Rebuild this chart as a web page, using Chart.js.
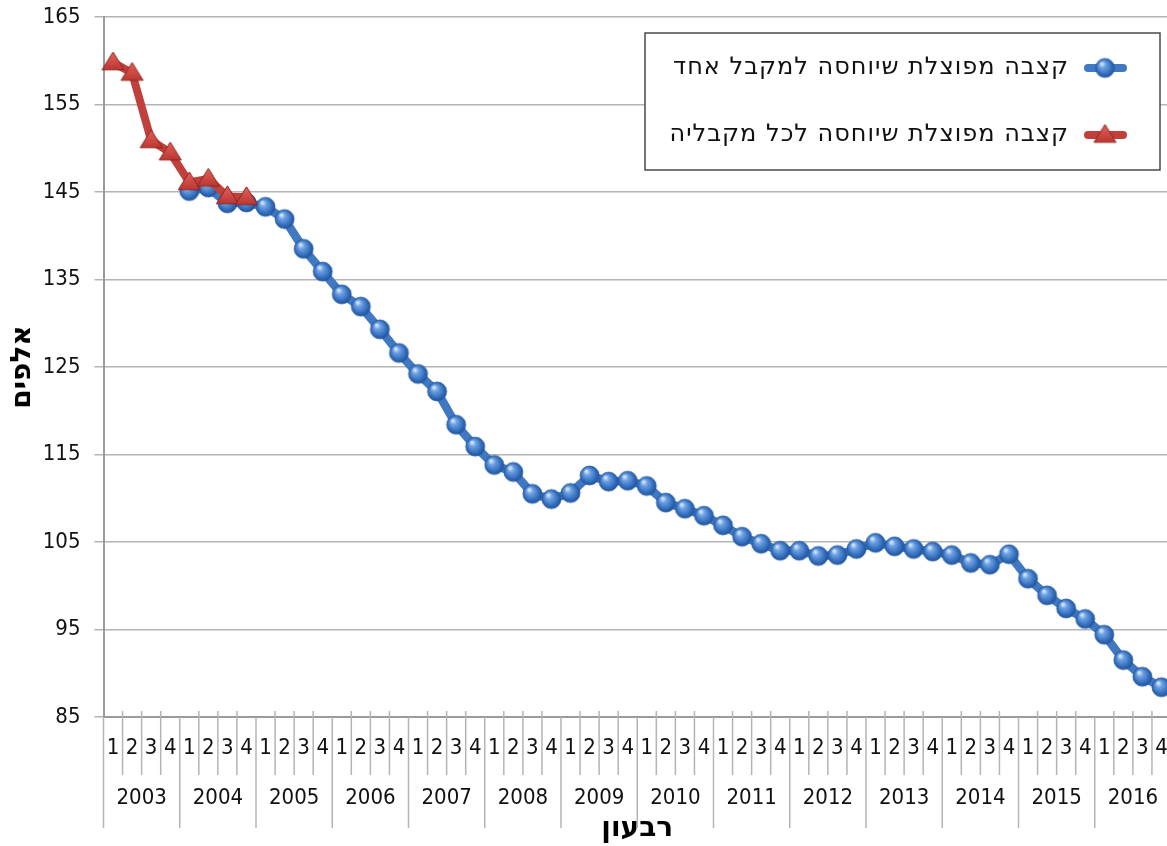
<!DOCTYPE html>
<html>
<head>
<meta charset="utf-8">
<script src="https://cdn.jsdelivr.net/npm/chart.js@4.4.1/dist/chart.umd.min.js"></script>
<style>
  html, body { margin: 0; padding: 0; background: #fff; overflow: hidden; }
  #c { display: block; }
</style>
</head>
<body>
<canvas id="c" width="1171" height="846" style="width:1171px;height:846px"></canvas>
<script>
// ---- Data ----
const years = ['2003','2004','2005','2006','2007','2008','2009','2010','2011','2012','2013','2014','2015','2016'];
const quarters = ['1','2','3','4'];
const seriesOneName = 'קצבה מפוצלת שיוחסה למקבל אחד';
const seriesAllName = 'קצבה מפוצלת שיוחסה לכל מקבליה';
// Blue: split pension attributed to one recipient (2003Q1..2016Q4)
const perOneRecipient = [
  null, null, null, null,
  145.1, 145.5, 143.7, 143.8,
  143.3, 141.9, 138.5, 135.9,
  133.3, 131.9, 129.3, 126.6,
  124.2, 122.2, 118.4, 115.9,
  113.8, 113.0, 110.5, 109.9,
  110.6, 112.6, 111.9, 112.0,
  111.4, 109.5, 108.8, 108.0,
  106.9, 105.6, 104.8, 104.0,
  104.0, 103.4, 103.5, 104.2,
  104.9, 104.5, 104.2, 103.9,
  103.5, 102.6, 102.4, 103.6,
  100.8, 98.9, 97.4, 96.2,
  94.4, 91.5, 89.6, 88.4
];
// Red: split pension attributed to all its recipients
const perAllRecipients = [
  159.8, 158.6, 150.9, 149.5,
  146.1, 146.5, 144.5, 144.4
].concat(new Array(48).fill(null));
const yTicks = { min: 85, max: 165, step: 10 };
const xTitle = 'רבעון';
const yTitle = 'אלפים';

const categories = [];
years.forEach(y => quarters.forEach(q => categories.push(y + ' Q' + q)));

// ---- Marker images ----
function sphere(r) {
  const c = document.createElement('canvas');
  const s = Math.ceil(r * 2 + 4);
  c.width = s; c.height = s;
  const g = c.getContext('2d');
  const cx = s / 2, cy = s / 2;
  const grad = g.createRadialGradient(cx - r * 0.35, cy - r * 0.45, r * 0.1, cx, cy, r * 1.05);
  grad.addColorStop(0, '#cfe2fb');
  grad.addColorStop(0.25, '#6fa2e2');
  grad.addColorStop(0.7, '#3570c0');
  grad.addColorStop(1, '#1e4f92');
  g.beginPath(); g.arc(cx, cy, r, 0, Math.PI * 2);
  g.fillStyle = grad; g.fill();
  g.lineWidth = 0.8; g.strokeStyle = '#2a5d9f'; g.stroke();
  return c;
}
function triangle(r) {
  const c = document.createElement('canvas');
  const s = Math.ceil(r * 2 + 4);
  c.width = s; c.height = s;
  const g = c.getContext('2d');
  const cx = s / 2, cy = s / 2;
  const grad = g.createLinearGradient(0, cy - r, 0, cy + r);
  grad.addColorStop(0, '#e5605a');
  grad.addColorStop(1, '#b3302a');
  g.beginPath();
  g.moveTo(cx, cy - r);
  g.lineTo(cx + r * 1.05, cy + r * 0.7);
  g.lineTo(cx - r * 1.05, cy + r * 0.7);
  g.closePath();
  g.fillStyle = grad; g.fill();
  g.lineWidth = 1; g.strokeStyle = '#8f2420'; g.stroke();
  return c;
}
const blueMarker = sphere(9.5);
const redMarker = triangle(10.5);
const blueLine = '#4078c2';
const redLine = '#c0413b';

const FONT = "'DejaVu Sans Condensed', 'DejaVu Sans', sans-serif";
const HFONT = "'DejaVu Sans', sans-serif";
const GRID = '#b4b4b4';

function zeroPad(s) { s.paddingTop = 0; s.paddingBottom = 0; s.paddingLeft = 0; s.paddingRight = 0; }

// ---- Plugins ----
const separators = {
  id: 'separators',
  afterDraw(chart) {
    const xs = chart.scales.x;
    const ctx = chart.ctx;
    const top = chart.chartArea.bottom - 6;
    const n = categories.length;
    const w = xs.getPixelForValue(1) - xs.getPixelForValue(0);
    ctx.save();
    ctx.strokeStyle = GRID;
    ctx.lineWidth = 1.5;
    for (let k = 0; k <= n; k++) {
      const x = xs.getPixelForValue(k) - w / 2;
      const isYear = k % quarters.length === 0;
      ctx.beginPath();
      ctx.moveTo(x, isYear ? chart.chartArea.bottom : top);
      ctx.lineTo(x, isYear ? 828 : 775);
      ctx.stroke();
    }
    ctx.restore();
  }
};

const boxLegend = {
  id: 'boxLegend',
  afterDraw(chart) {
    const ctx = chart.ctx;
    const bx = 645, by = 33, bw = 515, bh = 137;
    ctx.save();
    ctx.fillStyle = '#fff';
    ctx.fillRect(bx, by, bw, bh);
    ctx.strokeStyle = '#4a4a4a';
    ctx.lineWidth = 1.5;
    ctx.strokeRect(bx, by, bw, bh);
    const rows = [
      { text: seriesOneName, color: blueLine, img: blueMarker, y: 68 },
      { text: seriesAllName, color: redLine, img: redMarker, y: 135 }
    ];
    rows.forEach(r => {
      ctx.beginPath();
      ctx.lineCap = 'round';
      ctx.lineWidth = 8;
      ctx.strokeStyle = r.color;
      ctx.moveTo(1088, r.y); ctx.lineTo(1123, r.y);
      ctx.stroke();
      ctx.drawImage(r.img, 1105 - r.img.width / 2, r.y - r.img.height / 2);
      ctx.fillStyle = '#111';
      ctx.font = '24px ' + HFONT;
      ctx.letterSpacing = '1px';
      ctx.direction = 'rtl';
      ctx.textAlign = 'right';
      ctx.textBaseline = 'middle';
      ctx.fillText(r.text, 1069, r.y);
    });
    ctx.restore();
  }
};

new Chart(document.getElementById('c'), {
  type: 'line',
  data: {
    labels: categories,
    datasets: [
      {
        label: seriesOneName,
        data: perOneRecipient,
        borderColor: blueLine,
        borderWidth: 8.5,
        pointStyle: blueMarker,
        pointRadius: 10,
        order: 1,
        tension: 0,
        spanGaps: false,
        clip: 12
      },
      {
        label: seriesAllName,
        data: perAllRecipients,
        borderColor: redLine,
        borderWidth: 8,
        pointStyle: redMarker,
        pointRadius: 10,
        order: 0,
        tension: 0,
        spanGaps: false,
        clip: 12
      }
    ]
  },
  options: {
    responsive: false,
    animation: false,
    events: [],
    layout: { autoPadding: false, padding: { top: 17, left: 0, right: 0, bottom: 0 } },
    plugins: { legend: { display: false }, tooltip: { enabled: false } },
    scales: {
      x: {
        type: 'category',
        offset: true,
        position: 'bottom',
        grid: { display: false, drawTicks: false, tickLength: 0, offset: true },
        border: { display: true, color: '#9a9a9a', width: 2 },
        ticks: {
          autoSkip: false, maxRotation: 0, minRotation: 0,
          padding: 18,
          color: '#111',
          font: { family: FONT, size: 22 },
          callback: (v, i) => quarters[i % quarters.length]
        },
        afterFit: s => { s.height = 55; zeroPad(s); }
      },
      x2: {
        type: 'category',
        labels: years,
        offset: true,
        position: 'bottom',
        grid: { display: false, drawTicks: false, tickLength: 0 },
        border: { display: false },
        ticks: {
          autoSkip: false, maxRotation: 0, minRotation: 0,
          padding: 13,
          color: '#111',
          font: { family: FONT, size: 22 }
        },
        title: {
          display: true, text: xTitle, color: '#000',
          font: { family: HFONT, size: 28, weight: 'bold' },
          padding: { top: 0, bottom: 0 }
        },
        afterFit: s => { s.height = 74; zeroPad(s); }
      },
      y: {
        min: yTicks.min, max: yTicks.max,
        grid: { color: GRID, lineWidth: 1.5, tickLength: 9 },
        border: { display: true, color: '#9a9a9a', width: 2 },
        ticks: {
          stepSize: yTicks.step,
          padding: 14,
          color: '#111',
          font: { family: FONT, size: 22 }
        },
        title: {
          display: true, text: yTitle, color: '#000',
          font: { family: HFONT, size: 28, weight: 'bold' },
          padding: { top: 6, bottom: 0 }
        },
        afterFit: s => { s.width = 103.5; zeroPad(s); }
      }
    }
  },
  plugins: [separators, boxLegend]
});
</script>
</body>
</html>
